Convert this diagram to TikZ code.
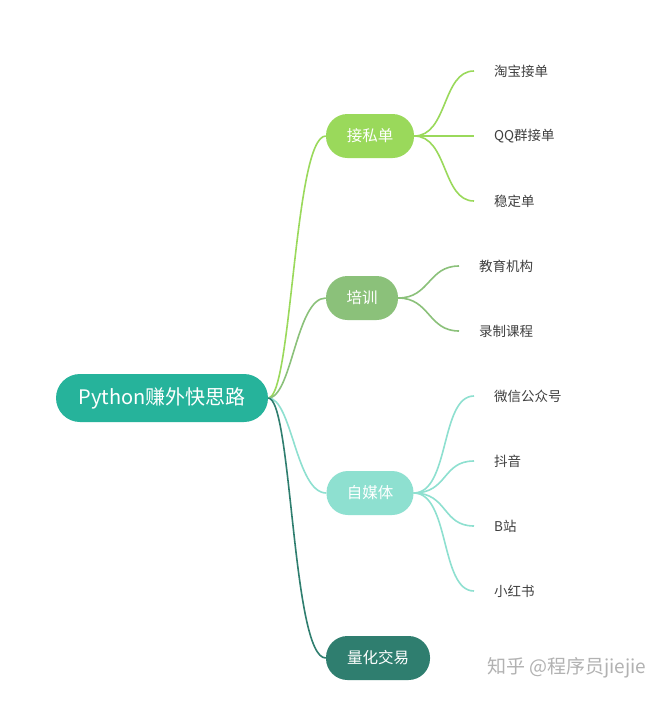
\documentclass[tikz,border=0pt]{standalone}
\usepackage{fontspec}
\setmainfont{Noto Sans CJK SC}
\begin{document}
\begin{tikzpicture}[x=1pt,y=-1pt,
  pill/.style={rounded corners=21.5pt,minimum height=44pt,inner sep=0pt,text=white,font=\fontsize{15.5}{18}\selectfont},
  leaf/.style={anchor=west,inner sep=0pt,text=black!75,font=\fontsize{13.5}{16}\selectfont},
  conn/.style={line width=1.6pt}]
\definecolor{cRoot}{HTML}{26B39B}
\definecolor{cA}{HTML}{9AD95B}
\definecolor{cB}{HTML}{8BC17A}
\definecolor{cC}{HTML}{8EE0D0}
\definecolor{cD}{HTML}{2F7E6F}
\useasboundingbox (0,0) rectangle (672,702);
\fill[white] (0,0) rectangle (672,702);
% nodes
\node[pill,fill=cRoot,minimum width=212pt,minimum height=48pt,rounded corners=24pt,font=\fontsize{20}{22}\selectfont] (root) at (162,398) {Python赚外快思路};
\node[pill,fill=cA,minimum width=88pt] (a) at (370,136) {接私单};
\node[pill,fill=cB,minimum width=72pt] (b) at (362,298) {培训};
\node[pill,fill=cC,minimum width=87pt] (c) at (370,493) {自媒体};
\node[pill,fill=cD,minimum width=104pt] (d) at (378,658) {量化交易};
% leaves
\node[leaf] (a1) at (494,71) {淘宝接单};
\node[leaf] (a2) at (494,136) {QQ群接单};
\node[leaf] (a3) at (494,201) {稳定单};
\node[leaf] (b1) at (479,266) {教育机构};
\node[leaf] (b2) at (479,331) {录制课程};
\node[leaf] (c1) at (494,396) {微信公众号};
\node[leaf] (c2) at (494,461) {抖音};
\node[leaf] (c3) at (494,526) {B站};
\node[leaf] (c4) at (494,591) {小红书};
\node[anchor=west,inner sep=0pt,text=black!30,font=\fontsize{19}{22}\selectfont] (wm) at (487,668) {知乎 @程序员jiejie};
% leaf ends
\coordinate (ea1) at (474,71);
\coordinate (ea2) at (474,136);
\coordinate (ea3) at (474,201);
\coordinate (eb1) at (459,266);
\coordinate (eb2) at (459,331);
\coordinate (ec1) at (474,396);
\coordinate (ec2) at (474,461);
\coordinate (ec3) at (474,526);
\coordinate (ec4) at (474,591);
% root connectors
\begin{scope}[conn]
\draw[cA] (root.east) .. controls (292,398) and (294,136) .. (a.west);
\draw[cB] (root.east) .. controls (292,398) and (296,298) .. (b.west);
\draw[cC] (root.east) .. controls (292,398) and (296,493) .. (c.west);
\draw[cD] (root.east) .. controls (292,398) and (292,658) .. (d.west);
% branch connectors
\draw[cA] (a.east) .. controls (448,136) and (442,71) .. (ea1);
\draw[cA] (a.east) -- (ea2);
\draw[cA] (a.east) .. controls (448,136) and (442,201) .. (ea3);
\draw[cB] (b.east) .. controls (430,298) and (428,266) .. (eb1);
\draw[cB] (b.east) .. controls (430,298) and (428,331) .. (eb2);
\draw[cC] (c.east) .. controls (450,493) and (440,396) .. (ec1);
\draw[cC] (c.east) .. controls (448,493) and (442,461) .. (ec2);
\draw[cC] (c.east) .. controls (448,493) and (442,526) .. (ec3);
\draw[cC] (c.east) .. controls (450,493) and (440,591) .. (ec4);
\end{scope}
\end{tikzpicture}
\end{document}
